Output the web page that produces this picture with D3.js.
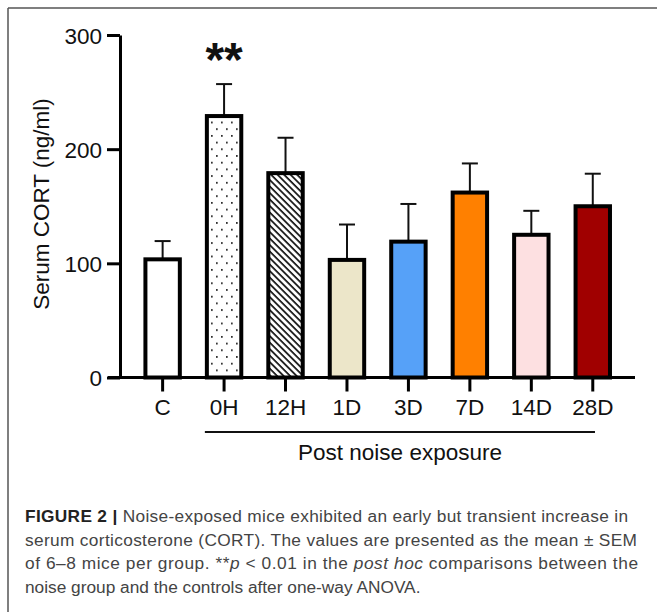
<!DOCTYPE html>
<html><head><meta charset="utf-8">
<script src="https://cdn.jsdelivr.net/npm/d3@7"></script>
<style>html,body{margin:0;padding:0;background:#fff;}svg{display:block;}</style>
</head><body>
<script>
const categories = ["C","0H","12H","1D","3D","7D","14D","28D"];
const means = [103.5, 229, 179, 103, 119, 162, 125, 150];
const sems = [16, 28, 31, 31, 33, 25.5, 21, 28.5];
const fills = ["#ffffff","url(#dots)","url(#hatch)","#ece6c9","#56a1f8","#ff8000","#fde0e1","#a00000"];
const yTicks = [0,100,200,300];
const sigLabels = ["","**","","","","","",""];

const W = 657, H = 612;
const svg = d3.select("body").append("svg").attr("width", W).attr("height", H);
svg.append("rect").attr("width", W).attr("height", H).attr("fill", "#fff");

const defs = svg.append("defs");
const dots = defs.append("pattern").attr("id","dots").attr("patternUnits","userSpaceOnUse")
  .attr("width",10).attr("height",13.4);
dots.append("rect").attr("width",10).attr("height",13.4).attr("fill","#fff");
dots.append("rect").attr("x",1).attr("y",1).attr("width",1.7).attr("height",1.7).attr("fill","#222");
dots.append("rect").attr("x",6).attr("y",7.7).attr("width",1.7).attr("height",1.7).attr("fill","#222");
const hatch = defs.append("pattern").attr("id","hatch").attr("patternUnits","userSpaceOnUse")
  .attr("width",4.6).attr("height",4.6).attr("patternTransform","rotate(45)");
hatch.append("rect").attr("width",4.6).attr("height",4.6).attr("fill","#fff");
hatch.append("rect").attr("x",0).attr("y",0).attr("width",4.6).attr("height",1.7).attr("fill","#111");

// frame
svg.append("line").attr("x1",8).attr("x2",W).attr("y1",8).attr("y2",8).attr("stroke","#555").attr("stroke-width",1.5);
svg.append("line").attr("x1",8).attr("x2",8).attr("y1",8).attr("y2",H).attr("stroke","#555").attr("stroke-width",1.5);

const y = d3.scaleLinear().domain([0,300]).range([377.5,35]);
const x = d3.scaleBand().domain(categories).range([131.9,623.5]).paddingInner(0.44).paddingOuter(0.22);

const font = "'Liberation Sans', Arial, Helvetica, sans-serif";

// error bars
const eb = svg.append("g").attr("stroke","#111").attr("stroke-width",2);
categories.forEach((c,i)=>{
  const cx = x(c) + x.bandwidth()/2;
  eb.append("line").attr("x1",cx).attr("x2",cx).attr("y1",y(means[i])).attr("y2",y(means[i]+sems[i]));
  eb.append("line").attr("x1",cx-8).attr("x2",cx+8).attr("y1",y(means[i]+sems[i])).attr("y2",y(means[i]+sems[i]));
});

// bars
svg.append("g").selectAll("rect").data(categories).join("rect")
  .attr("x", d=>x(d)).attr("width", x.bandwidth())
  .attr("y", (d,i)=>y(means[i])).attr("height",(d,i)=>y(0)-y(means[i]))
  .attr("fill",(d,i)=>fills[i]).attr("stroke","#000").attr("stroke-width",4);

// y axis
const ya = svg.append("g").attr("transform","translate(120,0)")
  .call(d3.axisLeft(y).tickValues(yTicks).tickSize(13).tickPadding(5).tickSizeOuter(0));
ya.select(".domain").attr("stroke","#000").attr("stroke-width",3);
ya.selectAll(".tick line").attr("stroke","#000").attr("stroke-width",3);
ya.selectAll(".tick text").attr("font-family",font).attr("font-size",22.5).attr("fill","#111").attr("dy","0.36em");

// x axis
const xa = svg.append("g").attr("transform","translate(0,377.5)")
  .call(d3.axisBottom(x).tickSize(14).tickPadding(8).tickSizeOuter(0));
xa.select(".domain").attr("d","M108,0H635").attr("stroke","#000").attr("stroke-width",3);
xa.selectAll(".tick line").attr("stroke","#000").attr("stroke-width",3);
xa.selectAll(".tick text").attr("font-family",font).attr("font-size",22.5).attr("fill","#111");

// significance
svg.append("g").selectAll("text").data(categories).join("text")
  .attr("x", d=>x(d)+x.bandwidth()/2).attr("y",76)
  .attr("text-anchor","middle").attr("font-family",font).attr("font-weight","bold")
  .attr("font-size",48).attr("fill","#111").text((d,i)=>sigLabels[i]);

// y label
svg.append("text").attr("transform","translate(49,204) rotate(-90)")
  .attr("text-anchor","middle").attr("font-family",font).attr("font-size",22.5).attr("fill","#111")
  .text("Serum CORT (ng/ml)");

// group line
svg.append("line").attr("x1", x("0H")-2).attr("x2", x("28D")+x.bandwidth()-15)
  .attr("y1",432).attr("y2",432).attr("stroke","#111").attr("stroke-width",2);
svg.append("text").attr("x",400).attr("y",460).attr("text-anchor","middle")
  .attr("font-family",font).attr("font-size",22.5).attr("fill","#111").text("Post noise exposure");

// caption
const cap = svg.append("g").attr("font-family",font).attr("font-size",17.3).attr("fill","#444");
const l1 = cap.append("text").attr("x",25).attr("y",522).attr("textLength",603).attr("lengthAdjust","spacing");
l1.append("tspan").attr("font-weight","bold").attr("fill","#222").text("FIGURE 2 | ");
l1.append("tspan").text("Noise-exposed mice exhibited an early but transient increase in");
cap.append("text").attr("x",25).attr("y",545.5).attr("textLength",612).attr("lengthAdjust","spacing")
  .text("serum corticosterone (CORT). The values are presented as the mean \u00b1 SEM");
const l3 = cap.append("text").attr("x",25).attr("y",569).attr("textLength",613).attr("lengthAdjust","spacing");
l3.append("tspan").text("of 6\u20138 mice per group. **");
l3.append("tspan").attr("font-style","italic").text("p");
l3.append("tspan").text(" < 0.01 in the ");
l3.append("tspan").attr("font-style","italic").text("post hoc");
l3.append("tspan").text(" comparisons between the");
cap.append("text").attr("x",25).attr("y",592.5).text("noise group and the controls after one-way ANOVA.");
</script>
</body></html>
